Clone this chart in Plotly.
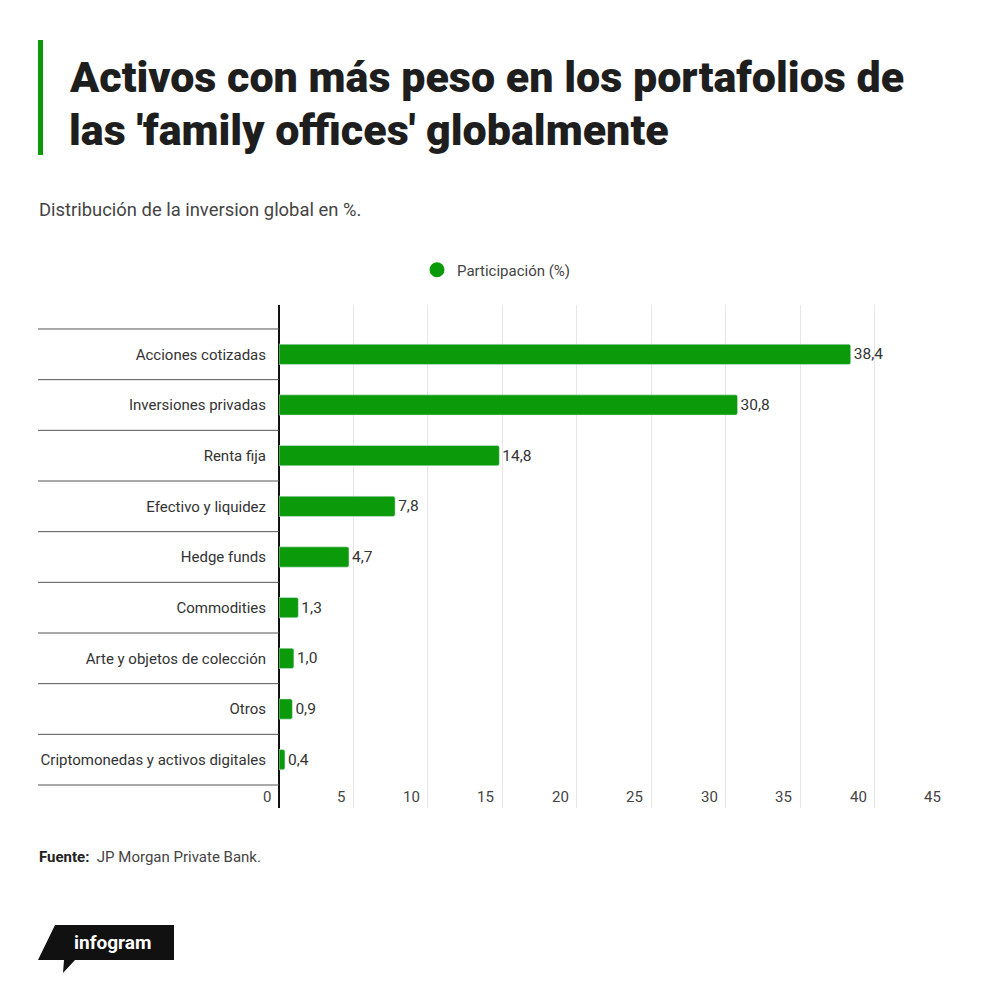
import plotly.graph_objects as go

# data
categorias = [
    "Acciones cotizadas",
    "Inversiones privadas",
    "Renta fija",
    "Efectivo y liquidez",
    "Hedge funds",
    "Commodities",
    "Arte y objetos de colección",
    "Otros",
    "Criptomonedas y activos digitales",
]
participacion = [38.4, 30.8, 14.8, 7.8, 4.7, 1.3, 1.0, 0.9, 0.4]
ticks_x = [0, 5, 10, 15, 20, 25, 30, 35, 40, 45]

GREEN = "#0a9a0a"
FONT = "Roboto"

# the page has an 8px body margin, so work in page pixels and shift
OFF = 8
W, H = 1000 - 2 * OFF, 993 - 2 * OFF
L, R, T, B = 279 - OFF, 949 - OFF, 305 - OFF, 808 - OFF


def px_x(p):
    return (p - OFF - L) / (R - L)


def px_y(p):
    return (B - (p - OFF)) / (B - T)


fig = go.Figure()

fig.add_trace(go.Bar(
    x=participacion,
    y=categorias,
    orientation="h",
    marker=dict(color=GREEN, cornerradius=2),
    width=0.4,
    texttemplate="%{x:.1f}",
    textposition="outside",
    textfont=dict(family=FONT, size=15.5, color="#333333"),
    cliponaxis=False,
    showlegend=False,
))

# legend entry with a round marker
fig.add_trace(go.Scatter(
    x=[None], y=[None],
    mode="markers",
    marker=dict(color=GREEN, size=15, symbol="circle"),
    name="Participación (%)",
))

# row separators left of the axis
shapes = []
for i in range(len(categorias) + 1):
    shapes.append(dict(
        type="line", xref="paper", yref="y",
        x0=px_x(38), x1=0, y0=i - 0.5, y1=i - 0.5,
        line=dict(color="#555555", width=1),
    ))

# green accent next to the title
shapes.append(dict(
    type="rect", xref="paper", yref="paper",
    x0=px_x(38), x1=px_x(43), y0=px_y(40), y1=px_y(155),
    fillcolor=GREEN, line=dict(width=0),
))

# infogram badge
pts = [(55, 925), (174, 925), (174, 960), (75, 960), (63, 973), (64, 960), (38, 960)]
path = "M " + " L ".join(f"{px_x(a):.5f},{px_y(b):.5f}" for a, b in pts) + " Z"
shapes.append(dict(type="path", xref="paper", yref="paper", path=path,
                   fillcolor="#111111", line=dict(width=0)))

annotations = []
# x tick labels, right aligned to their gridline
for t in ticks_x:
    annotations.append(dict(
        x=t, xref="x", y=px_y(797), yref="paper",
        text=str(t), showarrow=False, xanchor="right", yanchor="middle",
        xshift=-6, font=dict(family=FONT, size=15, color="#444444"),
    ))

# title lines
annotations.append(dict(
    x=px_x(67), y=px_y(77), xref="paper", yref="paper",
    text="Activos con más peso en los portafolios de",
    showarrow=False, xanchor="left", yanchor="middle",
    font=dict(family=FONT, size=43, color="#1e1e1e", weight=900),
))
annotations.append(dict(
    x=px_x(67), y=px_y(130), xref="paper", yref="paper",
    text="las 'family offices' globalmente",
    showarrow=False, xanchor="left", yanchor="middle",
    font=dict(family=FONT, size=43, color="#1e1e1e", weight=900),
))
annotations.append(dict(
    x=px_x(37), y=px_y(210), xref="paper", yref="paper",
    text="Distribución de la inversion global en %.",
    showarrow=False, xanchor="left", yanchor="middle",
    font=dict(family=FONT, size=18.4, color="#444444"),
))
annotations.append(dict(
    x=px_x(37), y=px_y(857), xref="paper", yref="paper",
    text="<b style='color:#222222'>Fuente:</b>  JP Morgan Private Bank.",
    showarrow=False, xanchor="left", yanchor="middle",
    font=dict(family=FONT, size=15, color="#444444"),
))
annotations.append(dict(
    x=px_x(112), y=px_y(942), xref="paper", yref="paper",
    text="<b>infogram</b>",
    showarrow=False, xanchor="center", yanchor="middle",
    font=dict(family=FONT, size=19, color="#ffffff"),
))

fig.update_layout(
    width=W, height=H,
    margin=dict(l=L, r=W - R, t=T, b=H - B, pad=0),
    paper_bgcolor="white",
    plot_bgcolor="white",
    separators=",.",
    font=dict(family=FONT, size=15, color="#333333"),
    showlegend=True,
    legend=dict(
        orientation="h", xref="container", yref="container",
        x=(426 - 9 - OFF) / W, xanchor="left",
        y=1 - (270 - OFF) / H, yanchor="middle",
        font=dict(family=FONT, size=15, color="#444444"),
        itemwidth=30,
    ),
    shapes=shapes,
    annotations=annotations,
    xaxis=dict(
        range=[0, 45], tickvals=ticks_x, showticklabels=False,
        showgrid=True, gridcolor="#e6e6e6", gridwidth=1,
        zeroline=True, zerolinecolor="#111111", zerolinewidth=2,
        showline=False, fixedrange=True,
    ),
    yaxis=dict(
        type="category", categoryorder="array", categoryarray=categorias,
        range=[len(categorias) - 0.5 + 23 / 50.7, -0.5 - 24 / 50.7],
        showgrid=False, zeroline=False, showline=False, ticks="",
        ticklabelstandoff=12,
        tickfont=dict(family=FONT, size=15, color="#333333"),
    ),
    bargap=0.6,
)

fig.write_html("out.html")
